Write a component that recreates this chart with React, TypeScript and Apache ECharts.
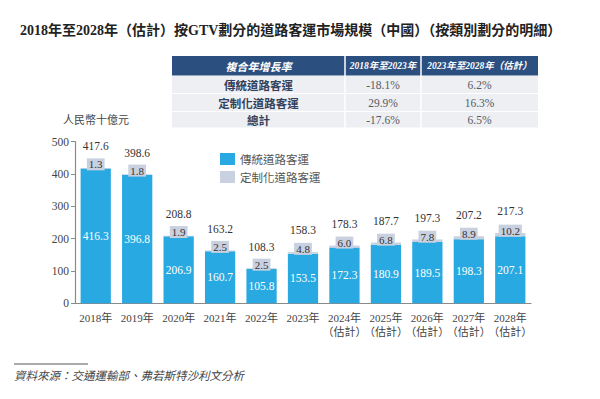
import React, { useEffect, useRef } from "react";
import * as echarts from "echarts";

const categories = [
  "2018年", "2019年", "2020年", "2021年", "2022年", "2023年",
  "2024年\n（估計）", "2025年\n（估計）", "2026年\n（估計）", "2027年\n（估計）", "2028年\n（估計）",
];
const traditional = [416.3, 396.8, 206.9, 160.7, 105.8, 153.5, 172.3, 180.9, 189.5, 198.3, 207.1];
const customized = [1.3, 1.8, 1.9, 2.5, 2.5, 4.8, 6.0, 6.8, 7.8, 8.9, 10.2];
const totals = [417.6, 398.6, 208.8, 163.2, 108.3, 158.3, 178.3, 187.7, 197.3, 207.2, 217.3];
const yTicks = [0, 100, 200, 300, 400, 500];

const seriesNames = ["傳統道路客運", "定制化道路客運"];
const tableHeader = ["複合年增長率", "2018年至2023年", "2023年至2028年（估計）"];
const tableRowNames = ["傳統道路客運", "定制化道路客運", "總計"];
const cagr2018to2023 = ["-18.1%", "29.9%", "-17.6%"];
const cagr2023to2028 = ["6.2%", "16.3%", "6.5%"];

const SERIF = "'Liberation Serif', 'DejaVu Serif', 'Noto Sans CJK TC', serif";
const CJK = "'Noto Sans CJK TC', 'Noto Sans', sans-serif";
const BLUE = "#29a9e1";
const GRAY = "#c9d0df";

function buildTable(): any[] {
  const cols = [172, 345, 421, 538];
  const rows = [56, 75.5, 93.5, 111.5, 128];
  const els: any[] = [];
  els.push({ type: "rect", shape: { x: cols[0], y: rows[0], width: cols[3] - cols[0], height: rows[1] - rows[0] }, style: { fill: "#2b5080" } });
  for (let r = 1; r < 4; r++) {
    els.push({ type: "rect", shape: { x: cols[0], y: rows[r] + 0.5, width: cols[3] - cols[0], height: rows[r + 1] - rows[r] - 1 }, style: { fill: "#edeff3" } });
  }
  for (let c = 1; c < 3; c++) {
    els.push({ type: "rect", shape: { x: cols[c] - 0.75, y: rows[0], width: 1.5, height: rows[4] - rows[0] }, style: { fill: "#ffffff" } });
  }
  tableHeader.forEach((h, i) => {
    const cx = (cols[i] + cols[i + 1]) / 2;
    els.push({
      type: "text", x: cx, y: (rows[0] + rows[1]) / 2,
      style: {
        text: h, fill: "#ffffff", align: "center", verticalAlign: "middle", textAlign: "center", textVerticalAlign: "middle",
        font: i === 0 ? `italic bold 11px ${CJK}` : `italic bold 9.5px ${SERIF}`,
      },
    });
  });
  tableRowNames.forEach((name, r) => {
    const cy = (rows[r + 1] + rows[r + 2]) / 2;
    const vals = [name, cagr2018to2023[r], cagr2023to2028[r]];
    vals.forEach((v, c) => {
      els.push({
        type: "text", x: (cols[c] + cols[c + 1]) / 2, y: cy,
        style: {
          text: v, fill: c === 0 ? "#33415c" : "#555a63", align: "center", verticalAlign: "middle",
          textAlign: "center", textVerticalAlign: "middle",
          font: c === 0 ? `bold 11.5px ${CJK}` : `11.5px ${SERIF}`,
        },
      });
    });
  });
  return els;
}

export default function App() {
  const ref = useRef<HTMLDivElement>(null);
  useEffect(() => {
    if (!ref.current) return;
    const chart = echarts.init(ref.current, null, { renderer: "svg" });
    const option: any = {
      animation: false,
      backgroundColor: "#ffffff",
      grid: { left: 75, right: 69, top: 141.5, bottom: 95.7, containLabel: false },
      legend: {
        data: seriesNames,
        orient: "vertical",
        left: 215,
        top: 148,
        itemWidth: 15,
        itemHeight: 12,
        itemGap: 6,
        icon: "rect",
        textStyle: { color: "#555", fontSize: 11.5, fontFamily: CJK },
      },
      xAxis: {
        type: "category",
        data: categories,
        axisTick: { show: false },
        axisLine: { lineStyle: { color: "#8a8a8a", width: 1.2 } },
        axisLabel: { color: "#444", fontSize: 11, fontFamily: SERIF, margin: 8, lineHeight: 14, interval: 0 },
      },
      yAxis: {
        type: "value",
        min: yTicks[0],
        max: yTicks[yTicks.length - 1],
        interval: 100,
        splitLine: { show: false },
        axisLine: { show: true, lineStyle: { color: "#8a8a8a", width: 1.2 } },
        axisTick: { show: true, length: 4, lineStyle: { color: "#8a8a8a" } },
        axisLabel: { color: "#444", fontSize: 11.5, fontFamily: SERIF, margin: 6 },
      },
      series: [
        {
          name: seriesNames[0],
          type: "bar",
          stack: "total",
          data: traditional,
          barCategoryGap: "27%",
          itemStyle: { color: BLUE },
          label: {
            show: true, position: "inside", color: "#ffffff", fontSize: 11.5, fontFamily: SERIF,
            formatter: (p: any) => Number(p.value).toFixed(1),
          },
        },
        {
          name: seriesNames[1],
          type: "bar",
          stack: "total",
          data: customized,
          itemStyle: { color: GRAY },
          label: {
            show: true, position: "inside", offset: [0, -4], color: "#333", fontSize: 11, fontFamily: SERIF,
            backgroundColor: GRAY, padding: [1, 2, 0, 2],
            formatter: (p: any) => Number(p.value).toFixed(1),
          },
        },
        {
          name: "總計",
          type: "bar",
          stack: "total",
          data: totals.map(() => 0),
          itemStyle: { color: "transparent" },
          label: {
            show: true, position: "top", distance: 16, color: "#333", fontSize: 11.5, fontFamily: SERIF,
            formatter: (p: any) => totals[p.dataIndex].toFixed(1),
          },
        },
      ],
      graphic: [
        {
          type: "text", x: 20, y: 30,
          style: {
            text: "2018年至2028年（估計）按GTV劃分的道路客運市場規模（中國）（按類別劃分的明細）",
            fill: "#222", font: `bold 14px ${SERIF}`, verticalAlign: "middle", textVerticalAlign: "middle",
          },
        },
        ...buildTable(),
        {
          type: "text", x: 63, y: 119,
          style: { text: "人民幣十億元", fill: "#444", font: `11px ${CJK}`, verticalAlign: "middle", textVerticalAlign: "middle" },
        },
        { type: "line", shape: { x1: 14, y1: 364, x2: 88, y2: 364 }, style: { stroke: "#555", lineWidth: 1 } },
        {
          type: "text", x: 14, y: 375,
          style: { text: "資料來源：交通運輸部、弗若斯特沙利文分析", fill: "#444", font: `italic 11.5px ${CJK}`, verticalAlign: "middle", textVerticalAlign: "middle" },
        },
      ],
    };
    chart.setOption(option);
    return () => chart.dispose();
  }, []);
  return <div ref={ref} style={{ position: "fixed", left: 0, top: 0, width: 600, height: 399 }} />;
}
